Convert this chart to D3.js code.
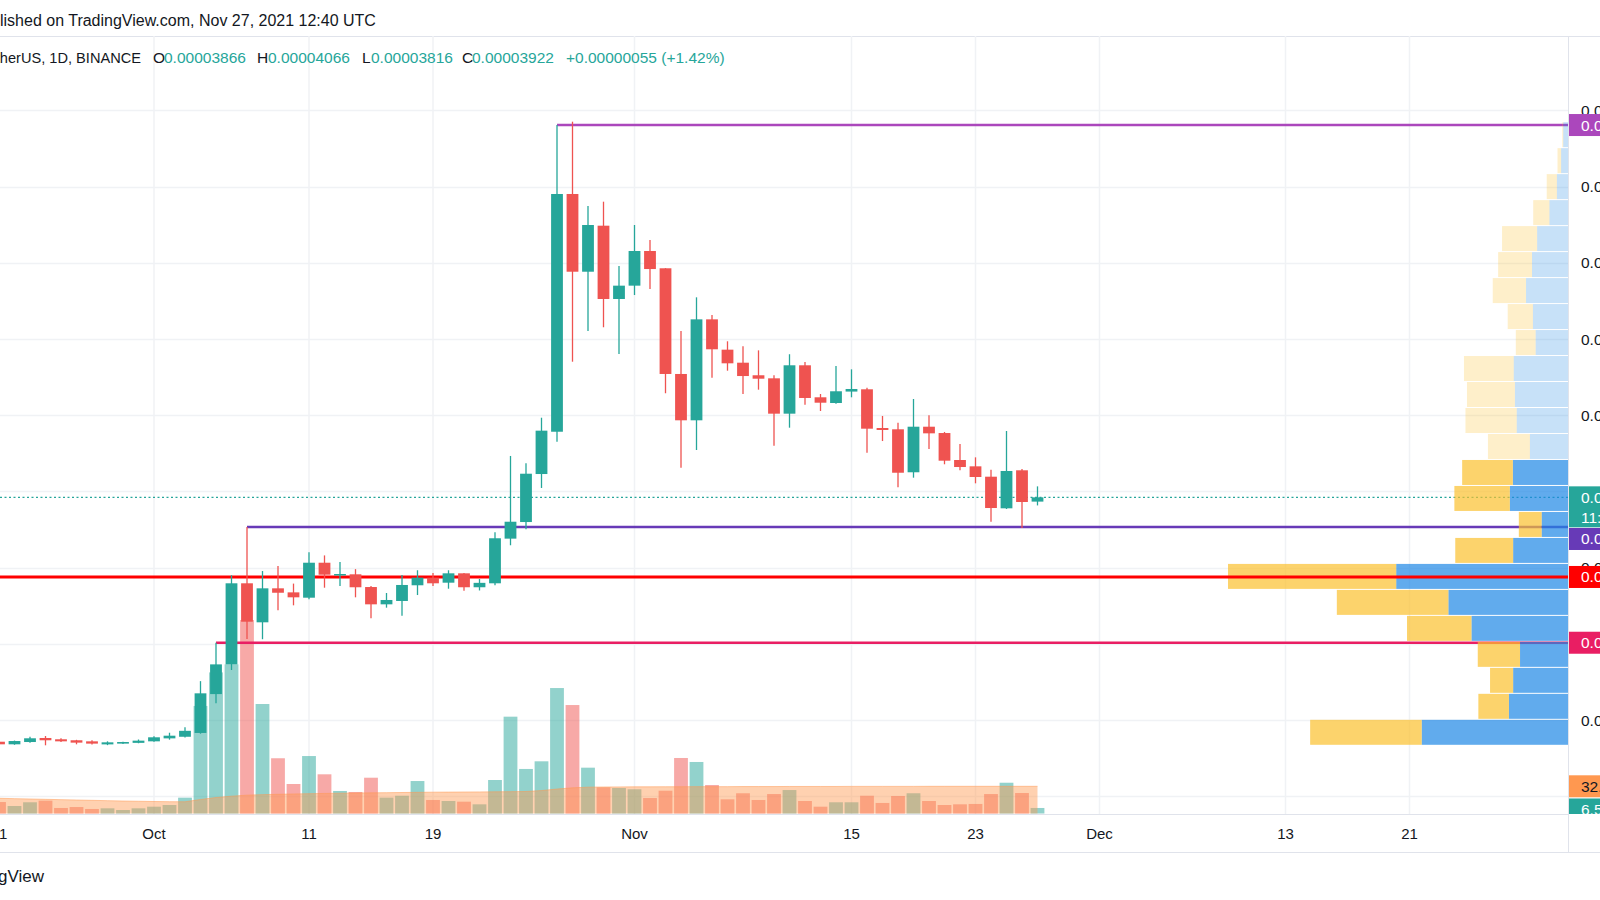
<!DOCTYPE html>
<html><head><meta charset="utf-8">
<script src="https://cdn.jsdelivr.net/npm/d3@7"></script>
<style>html,body{margin:0;padding:0;background:#fff;overflow:hidden}svg{display:block}</style>
</head><body>
<svg id="c" width="1600" height="900"></svg>
<script>
// ---------------- DATA ----------------
const dates = ["2021-09-21","2021-09-22","2021-09-23","2021-09-24","2021-09-25","2021-09-26","2021-09-27","2021-09-28","2021-09-29","2021-09-30",
"2021-10-01","2021-10-02","2021-10-03","2021-10-04","2021-10-05","2021-10-06","2021-10-07","2021-10-08","2021-10-09","2021-10-10",
"2021-10-11","2021-10-12","2021-10-13","2021-10-14","2021-10-15","2021-10-16","2021-10-17","2021-10-18","2021-10-19","2021-10-20",
"2021-10-21","2021-10-22","2021-10-23","2021-10-24","2021-10-25","2021-10-26","2021-10-27","2021-10-28","2021-10-29","2021-10-30","2021-10-31",
"2021-11-01","2021-11-02","2021-11-03","2021-11-04","2021-11-05","2021-11-06","2021-11-07","2021-11-08","2021-11-09","2021-11-10",
"2021-11-11","2021-11-12","2021-11-13","2021-11-14","2021-11-15","2021-11-16","2021-11-17","2021-11-18","2021-11-19","2021-11-20",
"2021-11-21","2021-11-22","2021-11-23","2021-11-24","2021-11-25","2021-11-26","2021-11-27"];

const open = [0.00000715,0.00000681,0.00000711,0.00000764,0.00000747,0.00000734,0.00000720,0.00000680,0.00000690,0.00000700,
0.00000720,0.00000759,0.00000780,0.00000830,0.00001340,0.00001730,0.00002794,0.00002282,0.00002728,0.00002675,
0.00002605,0.00003064,0.00002900,0.00002912,0.00002745,0.00002518,0.00002562,0.00002768,0.00002868,0.00002802,
0.00002925,0.00002742,0.00002794,0.00003380,0.00003598,0.00004228,0.00004783,0.00007903,0.00006883,0.00007487,0.00006525,
0.00006700,0.00007155,0.00006928,0.00005541,0.00004933,0.00006258,0.00005860,0.00005689,0.00005524,0.00005484,
0.00005020,0.00005655,0.00005235,0.00005160,0.00005310,0.00005340,0.00004832,0.00004815,0.00004251,0.00004849,
0.00004766,0.00004412,0.00004329,0.00004193,0.00003778,0.00004277,0.00003866];

const high = [0.00000740,0.00000730,0.00000780,0.00000790,0.00000760,0.00000740,0.00000735,0.00000720,0.00000715,0.00000744,
0.00000787,0.00000833,0.00000905,0.00001510,0.00002015,0.00002900,0.00003533,0.00002955,0.00003020,0.00002790,
0.00003200,0.00003160,0.00003073,0.00002980,0.00002760,0.00002667,0.00002903,0.00002965,0.00002930,0.00002965,
0.00002930,0.00002850,0.00003463,0.00004465,0.00004369,0.00004967,0.00008808,0.00008852,0.00007745,0.00007802,0.00006958,
0.00007496,0.00007300,0.00006930,0.00006105,0.00006547,0.00006315,0.00005970,0.00005904,0.00005851,0.00005524,
0.00005800,0.00005698,0.00005278,0.00005646,0.00005602,0.00005361,0.00004990,0.00004902,0.00005213,0.00005000,
0.00004780,0.00004622,0.00004447,0.00004285,0.00004793,0.00004294,0.00004066];

const low = [0.00000670,0.00000675,0.00000700,0.00000668,0.00000710,0.00000681,0.00000680,0.00000670,0.00000685,0.00000695,
0.00000715,0.00000742,0.00000770,0.00000820,0.00001220,0.00001656,0.00002063,0.00002060,0.00002440,0.00002505,
0.00002584,0.00002736,0.00002758,0.00002610,0.00002335,0.00002474,0.00002369,0.00002640,0.00002760,0.00002723,
0.00002697,0.00002700,0.00002768,0.00003293,0.00003503,0.00004045,0.00004652,0.00005702,0.00006105,0.00006154,0.00005803,
0.00006577,0.00006656,0.00005288,0.00004311,0.00004543,0.00005492,0.00005584,0.00005278,0.00005335,0.00004600,
0.00004836,0.00005138,0.00005055,0.00005151,0.00005235,0.00004508,0.00004661,0.00004055,0.00004180,0.00004556,
0.00004356,0.00004277,0.00004106,0.00003602,0.00003769,0.00003520,0.00003816];

const close = [0.00000681,0.00000724,0.00000760,0.00000734,0.00000720,0.00000703,0.00000690,0.00000707,0.00000711,0.00000729,
0.00000773,0.00000794,0.00000858,0.00001350,0.00001730,0.00002794,0.00002290,0.00002728,0.00002670,0.00002610,
0.00003064,0.00002907,0.00002916,0.00002742,0.00002518,0.00002575,0.00002772,0.00002868,0.00002794,0.00002925,
0.00002742,0.00002800,0.00003385,0.00003602,0.00004232,0.00004797,0.00007903,0.00006883,0.00007496,0.00006525,0.00006700,
0.00007155,0.00006918,0.00005541,0.00004933,0.00006258,0.00005865,0.00005681,0.00005514,0.00005479,0.00005020,
0.00005655,0.00005226,0.00005164,0.00005314,0.00005344,0.00004823,0.00004806,0.00004245,0.00004849,0.00004762,
0.00004403,0.00004320,0.00004189,0.00003782,0.00004268,0.00003861,0.00003922];

// volume in trillions
const volume = [13.5,8.8,13.2,15.1,6.5,7.6,5.3,6.1,4.1,6.1,
8.0,10.0,18.6,126.5,166,175.5,227.6,128.8,65,34.7,
67.6,46.1,26.5,25.3,42.1,18.6,20.9,38.2,15.9,14.7,
13.9,10.8,39.4,113.9,52.4,61.4,147.6,127.6,53.9,30.8,30.0,
28.5,18.2,26.8,65.3,60.6,33.5,16.7,23.8,15.9,22.9,
27.6,14.7,8.0,13.2,13.2,20.9,12.4,20.6,23.8,14.7,
10.0,10.8,11.2,22.9,36.2,24.1,6.5];

const volumeMA = [17.9,17.5,17.1,16.7,16.3,15.9,15.5,15.1,14.7,14.4,
14.1,13.9,13.8,16.5,18.8,20.4,21.6,22.2,22.6,23.0,
23.3,23.6,23.9,24.1,24.3,24.5,24.7,24.9,25.1,25.2,
25.3,25.4,25.5,25.7,25.9,27.0,28.8,30.2,31.0,31.2,31.3,
31.4,31.4,31.5,31.5,31.6,31.6,31.6,31.7,31.7,31.7,
31.8,31.8,31.8,31.8,31.9,31.9,31.9,31.9,31.9,32.0,
32.0,32.0,32.0,32.0,32.0,32.0,32.0];

const priceTicks = [0,0.00001,0.00002,0.00003,0.00004,0.00005,0.00006,0.00007,0.00008,0.00009];
// price labels that are not hidden behind the coloured axis boxes
const priceTickLabels = [0.00001,0.00003,0.00005,0.00006,0.00007,0.00008,0.00009];
const timeTicks = ["2021-09-21","2021-10-01","2021-10-11","2021-10-19","2021-11-01","2021-11-15","2021-11-23","2021-12-01","2021-12-13","2021-12-21"];

// horizontal levels drawn on chart
const levelValues = [0.00008808, 0.00003533, 0.00002877, 0.00002014];
const levelStarts = ["2021-10-27", "2021-10-07", null, "2021-10-05"];

// volume profile (visible range), rows from lowest price to highest
const vpUp   = [488,197,183,160,322,399,573,183,88,194,184,127,171,177,181,108,117,140,120,103,62,37,23,16];
const vpDown = [372,102,77,141,215,372,561,193,76,185,169,140,171,160,166,66,84,111,113,117,54,34,12,3];
const vpValueArea = [1,1,1,1,1,1,1,1,1,1,1,0,0,0,0,0,0,0,0,0,0,0,0,0];

// ---------------- CHART ----------------
const W = 1600, H = 900;
const paneR = 1568, paneT = 36, paneB = 814, axisB = 852;
const FONT = "'Liberation Sans', Arial, sans-serif";
const UP = "#26a69a", DOWN = "#ef5350";
const svg = d3.select("#c");
const parse = d3.utcParse("%Y-%m-%d");
const bars = dates.map((d,i)=>({t:parse(d),o:open[i],h:high[i],l:low[i],c:close[i],v:volume[i],ma:volumeMA[i]}));

const x = d3.scaleUtc().domain([parse("2021-10-01"), parse("2021-12-01")]).range([154, 1099.5]);
const y = d3.scaleLinear().domain([0, 0.00009]).range([796.2, 110.4]);
const yv = d3.scaleLinear().domain([0, 250]).range([813.5, 601]);

const defs = svg.append("defs");
defs.append("clipPath").attr("id","pane")
  .append("rect").attr("x",0).attr("y",paneT).attr("width",paneR).attr("height",paneB-paneT);
defs.append("clipPath").attr("id","axisclip")
  .append("rect").attr("x",paneR).attr("y",0).attr("width",W-paneR).attr("height",paneB);

function textWidth(str, size){
  const t = svg.append("text").attr("font-family",FONT).attr("font-size",size).text(str);
  const w = t.node().getComputedTextLength(); t.remove(); return w;
}

// header
svg.append("text").attr("y",26).attr("font-family",FONT).attr("font-size",16).attr("fill","#131722")
  .attr("x", -textWidth("Pub",16))
  .text("Published on TradingView.com, Nov 27, 2021 12:40 UTC");

// borders
svg.append("line").attr("x1",0).attr("x2",W).attr("y1",paneT+0.5).attr("y2",paneT+0.5).attr("stroke","#e0e3eb");
svg.append("line").attr("x1",0).attr("x2",paneR).attr("y1",paneB+0.5).attr("y2",paneB+0.5).attr("stroke","#e0e3eb");
svg.append("line").attr("x1",0).attr("x2",W).attr("y1",axisB+0.5).attr("y2",axisB+0.5).attr("stroke","#e0e3eb");
svg.append("line").attr("x1",paneR+0.5).attr("x2",paneR+0.5).attr("y1",paneT).attr("y2",axisB).attr("stroke","#e0e3eb");

const pane = svg.append("g").attr("clip-path","url(#pane)");

// grid
pane.selectAll(".hg").data(priceTicks).join("line")
  .attr("x1",0).attr("x2",paneR).attr("y1",d=>Math.round(y(d))+0.5).attr("y2",d=>Math.round(y(d))+0.5)
  .attr("stroke","#f0f2f5").attr("stroke-width",1.5);
pane.selectAll(".vg").data(timeTicks).join("line")
  .attr("x1",d=>x(parse(d))).attr("x2",d=>x(parse(d))).attr("y1",paneT).attr("y2",paneB)
  .attr("stroke","#f0f2f5").attr("stroke-width",1.5);

// volume bars
pane.selectAll(".vol").data(bars).join("rect")
  .attr("x",d=>x(d.t)-6.9).attr("width",13.8)
  .attr("y",d=>yv(d.v)).attr("height",d=>yv(0)-yv(d.v))
  .attr("fill",d=>d.c>=d.o?"rgba(38,166,154,0.5)":"rgba(239,83,80,0.5)");

// volume MA area
pane.append("path").datum(bars)
  .attr("d", d3.area().x(d=>x(d.t)).y0(yv(0)).y1(d=>yv(d.ma)))
  .attr("fill","rgba(255,152,80,0.45)");
pane.append("path").datum(bars)
  .attr("d", d3.line().x(d=>x(d.t)).y(d=>yv(d.ma)))
  .attr("fill","none").attr("stroke","rgba(255,152,80,0.5)").attr("stroke-width",1);

// levels (except red full-width)
const levelColors = ["#ab47bc","#673ab7","#ff0000","#e91e63"];
const levelWidth = [2.5,2.5,3,2.5];
[0,1,3].forEach(i=>{
  pane.append("line").attr("x1", x(parse(levelStarts[i]))).attr("x2",paneR)
    .attr("y1",y(levelValues[i])).attr("y2",y(levelValues[i]))
    .attr("stroke",levelColors[i]).attr("stroke-width",levelWidth[i]);
});

// last price dotted line
const last = bars[bars.length-1];
pane.append("line").attr("x1",0).attr("x2",paneR).attr("y1",y(last.c)).attr("y2",y(last.c))
  .attr("stroke",UP).attr("stroke-width",1.2).attr("stroke-dasharray","2,2.5");

// volume profile
const vpLo = d3.min(low), vpHi = d3.max(high);
const rowH = (vpHi - vpLo) / vpUp.length;
const vpX = d3.scaleLinear().domain([0, 1134]).range([0, 340]);
vpUp.forEach((u,i)=>{
  const pBot = vpLo + i*rowH, pTop = pBot + rowH;
  const yt = y(pTop)+0.5, yb = y(pBot)-0.5;
  const strong = vpValueArea[i];
  const wU = vpX(u), wD = vpX(vpDown[i]);
  pane.append("rect").attr("x",paneR-wU).attr("width",wU).attr("y",yt).attr("height",yb-yt)
    .attr("fill", strong ? "rgba(30,136,229,0.7)" : "rgba(30,136,229,0.25)");
  pane.append("rect").attr("x",paneR-wU-wD).attr("width",wD).attr("y",yt).attr("height",yb-yt)
    .attr("fill", strong ? "rgba(251,192,45,0.7)" : "rgba(251,192,45,0.25)");
});

// red support line on top
pane.append("line").attr("x1",0).attr("x2",paneR).attr("y1",y(levelValues[2])).attr("y2",y(levelValues[2]))
  .attr("stroke",levelColors[2]).attr("stroke-width",levelWidth[2]);

// candles
const cg = pane.append("g");
cg.selectAll(".wick").data(bars).join("line")
  .attr("x1",d=>x(d.t)).attr("x2",d=>x(d.t)).attr("y1",d=>y(d.h)).attr("y2",d=>y(d.l))
  .attr("stroke",d=>d.c>=d.o?UP:DOWN).attr("stroke-width",1.3);
cg.selectAll(".body").data(bars).join("rect")
  .attr("x",d=>x(d.t)-5.9).attr("width",11.8)
  .attr("y",d=>y(Math.max(d.o,d.c)))
  .attr("height",d=>Math.max(1.5, Math.abs(y(d.o)-y(d.c))))
  .attr("fill",d=>d.c>=d.o?UP:DOWN);

// time axis labels
const fmtT = d => d.getUTCDate()===1 ? d3.utcFormat("%b")(d) : String(d.getUTCDate());
svg.selectAll(".tl").data(timeTicks).join("text")
  .attr("x",d=>x(parse(d))).attr("y",839).attr("text-anchor","middle")
  .attr("font-family",FONT).attr("font-size",15).attr("fill","#131722")
  .text(d=>fmtT(parse(d)));

// price axis labels
const fmtP = d3.format(".8f");
svg.selectAll(".pl").data(priceTickLabels).join("text")
  .attr("x",1581).attr("y",d=>y(d)+5.5)
  .attr("font-family",FONT).attr("font-size",15.5).attr("fill","#131722")
  .text(d=>fmtP(d));

// axis boxes
function box(cy, h, color, lines, textColor){
  const g = svg.append("g").attr("clip-path","url(#axisclip)");
  g.append("rect").attr("x",paneR+1).attr("y",cy-11).attr("width",W-paneR).attr("height",h).attr("fill",color);
  lines.forEach((t,k)=>{
    g.append("text").attr("x",1581).attr("y",cy+5.5+k*20).attr("font-family",FONT).attr("font-size",15.5)
      .attr("fill",textColor).text(t);
  });
}
box(y(levelValues[0]), 22, levelColors[0], [fmtP(levelValues[0])], "#fff");
box(y(last.c), 41, UP, [fmtP(last.c), "11:19:47"], "#fff");
box(y(levelValues[1])+12, 22, levelColors[1], [fmtP(levelValues[1])], "#fff");
box(y(levelValues[2]), 22, levelColors[2], [fmtP(levelValues[2])], "#fff");
box(y(levelValues[3]), 22, levelColors[3], [fmtP(levelValues[3])], "#fff");
box(yv(last.ma), 22, "#ff9850", [d3.format(".3f")(last.ma)+"T"], "#131722");
box(yv(last.v)+1.5, 22, UP, [d3.format(".3f")(last.v)+"T"], "#fff");

// legend
const lg = svg.append("g").attr("font-family",FONT).attr("font-size",15.5);
lg.append("text").attr("y",63).attr("x",141).attr("text-anchor","end").attr("font-size",14.6).attr("fill","#131722")
  .text("SHIBA INU / TetherUS, 1D, BINANCE");
const legendItems = [["O",last.o,153,164],["H",last.h,257,268],["L",last.l,362,371],["C",last.c,462,472]];
legendItems.forEach(([k,v,xk,xv])=>{
  lg.append("text").attr("x",xk).attr("y",63).attr("fill","#131722").text(k);
  lg.append("text").attr("x",xv).attr("y",63).attr("fill",UP).text(fmtP(v));
});
lg.append("text").attr("x",566).attr("y",63).attr("fill",UP).text("+0.00000055 (+1.42%)");

// footer logo text
svg.append("text").attr("y",882).attr("font-family",FONT).attr("font-size",17).attr("fill","#131722")
  .attr("x", -textWidth("Tradin",17)-2).text("TradingView");
</script>
</body></html>
